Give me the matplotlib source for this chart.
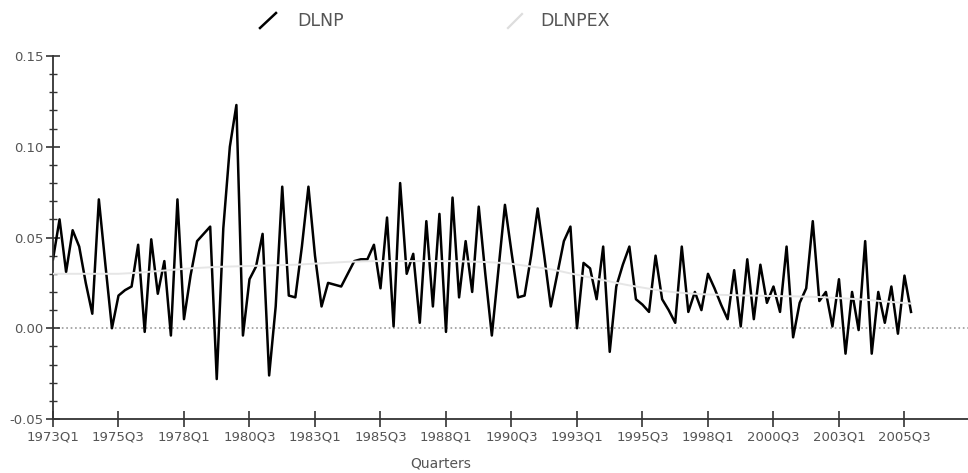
import numpy as np
import matplotlib.pyplot as plt
from matplotlib.lines import Line2D

# quarterly data 1973Q1 .. 2005Q4
dlnp = [0.038, 0.060, 0.031, 0.054, 0.045, 0.025, 0.008, 0.071, 0.035, 0.000,
        0.018, 0.021, 0.023, 0.046, -0.002, 0.049, 0.019, 0.037, -0.004, 0.071,
        0.005, 0.029, 0.048, 0.052, 0.056, -0.028, 0.055, 0.100, 0.123, -0.004,
        0.027, 0.034, 0.052, -0.026, 0.012, 0.078, 0.018, 0.017, 0.045, 0.078,
        0.040, 0.012, 0.025, 0.024, 0.023, 0.030, 0.037, 0.038, 0.038, 0.046,
        0.022, 0.061, 0.001, 0.080, 0.030, 0.041, 0.003, 0.059, 0.012, 0.063,
        -0.002, 0.072, 0.017, 0.048, 0.020, 0.067, 0.030, -0.004, 0.032, 0.068,
        0.042, 0.017, 0.018, 0.040, 0.066, 0.040, 0.012, 0.030, 0.048, 0.056,
        0.000, 0.036, 0.033, 0.016, 0.045, -0.013, 0.023, 0.035, 0.045, 0.016,
        0.013, 0.009, 0.040, 0.016, 0.010, 0.003, 0.045, 0.009, 0.020, 0.010,
        0.030, 0.022, 0.013, 0.005, 0.032, 0.001, 0.038, 0.005, 0.035, 0.014,
        0.023, 0.009, 0.045, -0.005, 0.014, 0.022, 0.059, 0.015, 0.020, 0.001,
        0.027, -0.014, 0.020, -0.001, 0.048, -0.014, 0.020, 0.003, 0.023, -0.003,
        0.029, 0.009]

dlnpex = [0.0300, 0.0300, 0.0300, 0.0300, 0.0300, 0.0300, 0.0300, 0.0300, 0.0300, 0.0300,
          0.0300, 0.0302, 0.0304, 0.0306, 0.0309, 0.0312, 0.0315, 0.0318, 0.0321, 0.0324,
          0.0327, 0.0330, 0.0332, 0.0334, 0.0336, 0.0338, 0.0339, 0.0340, 0.0341, 0.0342,
          0.0343, 0.0344, 0.0345, 0.0346, 0.0347, 0.0348, 0.0349, 0.0350, 0.0352, 0.0354,
          0.0356, 0.0358, 0.0360, 0.0362, 0.0364, 0.0366, 0.0367, 0.0368, 0.0369, 0.0370,
          0.0370, 0.0370, 0.0370, 0.0370, 0.0370, 0.0370, 0.0370, 0.0370, 0.0370, 0.0370,
          0.0370, 0.0370, 0.0369, 0.0368, 0.0367, 0.0366, 0.0365, 0.0363, 0.0361, 0.0358,
          0.0355, 0.0350, 0.0345, 0.0340, 0.0335, 0.0330, 0.0325, 0.0318, 0.0310, 0.0302,
          0.0295, 0.0287, 0.0280, 0.0272, 0.0265, 0.0258, 0.0250, 0.0243, 0.0236, 0.0230,
          0.0224, 0.0218, 0.0212, 0.0207, 0.0202, 0.0198, 0.0195, 0.0192, 0.0190, 0.0188,
          0.0186, 0.0185, 0.0184, 0.0183, 0.0182, 0.0181, 0.0180, 0.0180, 0.0179, 0.0178,
          0.0178, 0.0177, 0.0176, 0.0176, 0.0175, 0.0174, 0.0173, 0.0172, 0.0170, 0.0168,
          0.0166, 0.0164, 0.0162, 0.0160, 0.0157, 0.0154, 0.0151, 0.0148, 0.0145, 0.0142,
          0.0139, 0.0136]

tick_labels = ['1973Q1', '1975Q3', '1978Q1', '1980Q3', '1983Q1', '1985Q3', '1988Q1',
               '1990Q3', '1993Q1', '1995Q3', '1998Q1', '2000Q3', '2003Q1', '2005Q3']

t = np.arange(len(dlnp))
grey = '#555555'

fig = plt.figure(figsize=(9.68, 4.73), dpi=100)
ax = fig.add_axes([53/968, 1-419/473, (968-53)/968, (419-56)/473])

ax.axhline(0, color='#999999', linestyle=':', linewidth=1.2, zorder=1)
ax.plot(t, dlnp, color='black', linewidth=1.8, zorder=2)
ax.plot(t, dlnpex, color='#e6e6e6', linewidth=1.4, zorder=3)

ax.set_xlim(0, 139.7)
ax.set_ylim(-0.05, 0.15)
ax.set_xticks(np.arange(0, 140, 10))
ax.set_xticklabels(tick_labels)
ax.set_yticks([-0.05, 0.00, 0.05, 0.10, 0.15])
ax.set_yticklabels(['-0.05', '0.00', '0.05', '0.10', '0.15'])
ax.set_yticks(np.arange(-0.05, 0.151, 0.01), minor=True)

for s in ['top', 'right']:
    ax.spines[s].set_visible(False)
for s in ['left', 'bottom']:
    ax.spines[s].set_color('#333333')
    ax.spines[s].set_linewidth(1.3)

ax.tick_params(axis='x', direction='inout', length=12, width=1.2, color='#333333',
               labelsize=9.5, labelcolor=grey, pad=2)
ax.tick_params(axis='y', which='major', direction='inout', length=10, width=1.2,
               color='#333333', labelsize=9.5, labelcolor=grey, pad=2)
ax.tick_params(axis='y', which='minor', direction='inout', length=6, width=1.0,
               color='#333333')

fig.text(441/968, 1-463/473, 'Quarters', ha='center', va='center', fontsize=10, color=grey)

# legend
fig.add_artist(Line2D([260/968, 276/968], [1-28/473, 1-13/473], color='black', linewidth=1.8))
fig.text(297/968, 1-21/473, 'DLNP', ha='left', va='center', fontsize=12.5, color=grey)
fig.add_artist(Line2D([508/968, 522/968], [1-28/473, 1-14/473], color='#dddddd', linewidth=1.6))
fig.text(540/968, 1-21/473, 'DLNPEX', ha='left', va='center', fontsize=12.5, color=grey)

fig.savefig('out.png', dpi=100)
